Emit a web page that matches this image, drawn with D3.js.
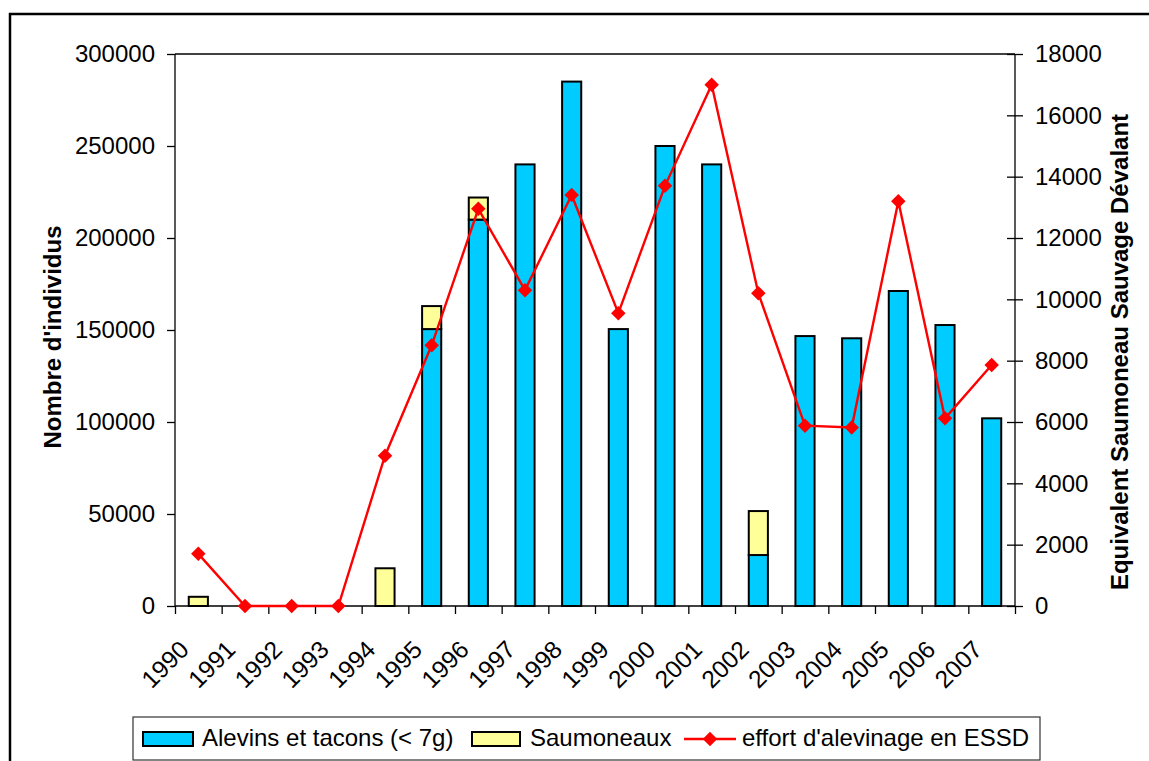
<!DOCTYPE html>
<html>
<head>
<meta charset="utf-8">
<script src="https://cdn.jsdelivr.net/npm/d3@7"></script>
<style>
  body { margin: 0; background: #fff; }
  text { font-family: "Liberation Sans", Arial, sans-serif; fill: #000; }
</style>
</head>
<body>
<svg id="chart" width="1149" height="761"></svg>
<script>
// data
var years = ["1990","1991","1992","1993","1994","1995","1996","1997","1998",
  "1999","2000","2001","2002","2003","2004","2005","2006","2007"];
var alevins = [0, 0, 0, 0, 0, 150500, 210000, 240000, 285000,
  150500, 250000, 240000, 27700, 146700, 145500, 171200, 152700, 102000];
var saumoneaux = [5000, 0, 0, 0, 20500, 12500, 12000, 0, 0,
  0, 0, 0, 23900, 0, 0, 0, 0, 0];
var effort = [1700, 0, 0, 0, 4900, 8500, 12950, 10300, 13400,
  9550, 13700, 17000, 10200, 5880, 5820, 13200, 6120, 7860];
var leftTicks = [0, 50000, 100000, 150000, 200000, 250000, 300000];
var rightTicks = [0, 2000, 4000, 6000, 8000, 10000, 12000, 14000, 16000, 18000];
var seriesNames = ["Alevins et tacons (< 7g)", "Saumoneaux", "effort d'alevinage en ESSD"];

var blue = "#00CCFF", yellow = "#FFFF99", red = "#FF0000";

// plot area
var pLeft = 175, pRight = 1015, pTop = 54, pBottom = 606;

var svg = d3.select("#chart");

// outer frame
svg.append("rect")
  .attr("x", 10).attr("y", 14)
  .attr("width", 1200).attr("height", 800)
  .attr("fill", "none").attr("stroke", "#000").attr("stroke-width", 2.5);

var x = d3.scaleBand()
  .domain(years)
  .range([pLeft, pRight])
  .paddingInner(0.59)
  .paddingOuter(0.295);

var xEdge = d3.scaleLinear().domain([0, years.length]).range([pLeft, pRight]);

var yL = d3.scaleLinear().domain([0, 300000]).range([pBottom, pTop]);
var yR = d3.scaleLinear().domain([0, 18000]).range([pBottom, pTop]);

// top border of plot area
svg.append("line")
  .attr("x1", pLeft).attr("x2", pRight)
  .attr("y1", pTop).attr("y2", pTop)
  .attr("stroke", "#000").attr("stroke-width", 1.3);

// stacked bars
var rows = years.map(function(y, i) {
  return { year: y, alevins: alevins[i], saumoneaux: saumoneaux[i] };
});
var stack = d3.stack().keys(["alevins", "saumoneaux"]);
var layers = stack(rows);
var colours = { alevins: blue, saumoneaux: yellow };

svg.append("g").selectAll("g")
  .data(layers)
  .enter().append("g")
    .attr("fill", function(d) { return colours[d.key]; })
  .selectAll("rect")
  .data(function(d) { return d.filter(function(p) { return p[1] > p[0]; }); })
  .enter().append("rect")
    .attr("x", function(d) { return x(d.data.year); })
    .attr("width", x.bandwidth())
    .attr("y", function(d) { return yL(d[1]); })
    .attr("height", function(d) { return yL(d[0]) - yL(d[1]); })
    .attr("stroke", "#000")
    .attr("stroke-width", 2);

// left axis
var axL = svg.append("g")
  .attr("transform", "translate(" + pLeft + ",0)")
  .call(d3.axisLeft(yL).tickValues(leftTicks).tickSize(8).tickPadding(12)
    .tickFormat(d3.format("d")));
axL.selectAll("text").style("font-size", "24px");

// right axis (ticks cross the line)
var axR = svg.append("g")
  .attr("transform", "translate(" + pRight + ",0)")
  .call(d3.axisRight(yR).tickValues(rightTicks).tickSize(8).tickPadding(12)
    .tickFormat(d3.format("d")));
axR.selectAll(".tick line").attr("x1", -8);
axR.selectAll("text").style("font-size", "24px");

// bottom axis: ticks between categories
var axB = svg.append("g")
  .attr("transform", "translate(0," + pBottom + ")")
  .call(d3.axisBottom(xEdge).tickValues(d3.range(years.length + 1))
    .tickSize(8).tickFormat(""));

axL.select(".domain").attr("d", "M0," + pBottom + "V" + pTop);
axR.select(".domain").attr("d", "M0," + pBottom + "V" + pTop);
axB.select(".domain").attr("d", "M" + pLeft + ",0H" + pRight);
[axL, axR, axB].forEach(function(a) {
  a.selectAll("path, line").attr("stroke", "#000").attr("stroke-width", 1.3);
});

// rotated year labels
svg.append("g").selectAll("text")
  .data(years)
  .enter().append("text")
    .attr("text-anchor", "end")
    .style("font-size", "24.5px")
    .attr("transform", function(d) {
      return "translate(" + (x(d) + x.bandwidth() / 2 - 8) + "," + 651 + ") rotate(-45)";
    })
    .text(function(d) { return d; });

// effort line
var line = d3.line()
  .x(function(d, i) { return x(years[i]) + x.bandwidth() / 2; })
  .y(function(d) { return yR(d); });

svg.append("path")
  .datum(effort)
  .attr("d", line)
  .attr("fill", "none")
  .attr("stroke", red)
  .attr("stroke-width", 2.4);

var diamond = d3.symbol().type(d3.symbolSquare).size(105);

svg.append("g").selectAll("path")
  .data(effort)
  .enter().append("path")
    .attr("d", diamond)
    .attr("fill", red)
    .attr("transform", function(d, i) {
      return "translate(" + (x(years[i]) + x.bandwidth() / 2) + "," + yR(d) + ") rotate(45)";
    });

// axis titles
svg.append("text")
  .attr("transform", "translate(61,337) rotate(-90)")
  .attr("text-anchor", "middle")
  .style("font-size", "24px").style("font-weight", "bold")
  .text("Nombre d'individus");

svg.append("text")
  .attr("transform", "translate(1128,352) rotate(-90)")
  .attr("text-anchor", "middle")
  .style("font-size", "24px").style("font-weight", "bold")
  .text("Equivalent Saumoneau Sauvage Dévalant");

// legend
var legend = svg.append("g");
legend.append("rect")
  .attr("x", 133).attr("y", 717)
  .attr("width", 907).attr("height", 43)
  .attr("fill", "#fff").attr("stroke", "#333").attr("stroke-width", 1.2);

legend.append("rect")
  .attr("x", 143).attr("y", 732).attr("width", 50).attr("height", 14)
  .attr("fill", blue).attr("stroke", "#000").attr("stroke-width", 2);
legend.append("text").attr("x", 202).attr("y", 746)
  .style("font-size", "24px").text(seriesNames[0]);

legend.append("rect")
  .attr("x", 472).attr("y", 732).attr("width", 48).attr("height", 14)
  .attr("fill", yellow).attr("stroke", "#000").attr("stroke-width", 2);
legend.append("text").attr("x", 530).attr("y", 746)
  .style("font-size", "24px").text(seriesNames[1]);

legend.append("line")
  .attr("x1", 684).attr("x2", 736).attr("y1", 739).attr("y2", 739)
  .attr("stroke", red).attr("stroke-width", 2.4);
legend.append("path")
  .attr("d", diamond)
  .attr("fill", red)
  .attr("transform", "translate(710,739) rotate(45)");
legend.append("text").attr("x", 742).attr("y", 746)
  .style("font-size", "24px").text(seriesNames[2]);
</script>
</body>
</html>
